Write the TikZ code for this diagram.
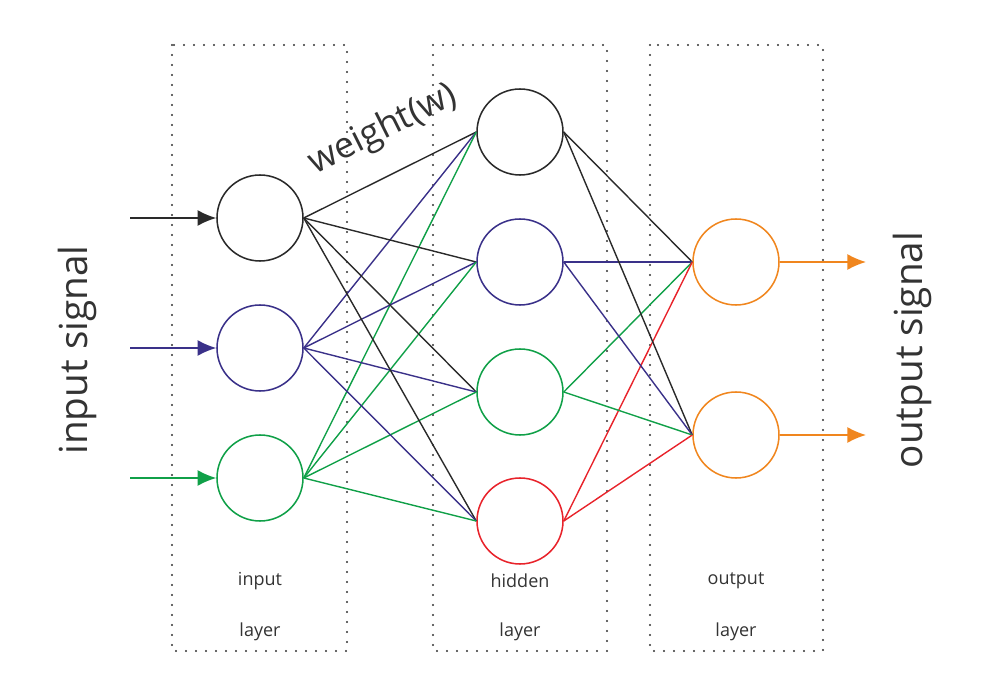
\documentclass[tikz,border=0pt]{standalone}
\usepackage{fontspec}
\setmainfont{Open Sans}
\usetikzlibrary{arrows.meta}
\definecolor{cblack}{HTML}{2A2A2A}
\definecolor{cblue}{HTML}{3A3189}
\definecolor{cgreen}{HTML}{10A048}
\definecolor{cred}{HTML}{E8232B}
\definecolor{corange}{HTML}{F0861E}
\definecolor{ctext}{HTML}{333333}
\begin{document}
\begin{tikzpicture}[x=0.75pt,y=-0.75pt,
  neuron/.style={circle,draw,line width=1.15pt,minimum size=64.5pt,inner sep=0pt},
  wire/.style={line width=1.05pt},
  layerbox/.style={draw=ctext,line width=1.7pt,line cap=round,dash pattern=on 0pt off 7.5pt},
  sig/.style={line width=1.15pt,-{Latex[length=14pt,width=12pt]}},
  smalllbl/.style={text=ctext,font=\fontsize{13.5}{16}\selectfont},
  biglbl/.style={text=ctext,font=\fontsize{29}{34}\selectfont}]
\useasboundingbox (0,0) rectangle (997,695);
% layer boxes
\draw[layerbox] (172,45) rectangle (347,651);
\draw[layerbox] (433,45) rectangle (607,651);
\draw[layerbox] (650,45) rectangle (823,651);
% neurons
\node[neuron,draw=cblack] (i1) at (260,218) {};
\node[neuron,draw=cblue] (i2) at (260,348) {};
\node[neuron,draw=cgreen] (i3) at (260,478) {};
\node[neuron,draw=cblack] (h1) at (520,132) {};
\node[neuron,draw=cblue] (h2) at (520,262) {};
\node[neuron,draw=cgreen] (h3) at (520,392) {};
\node[neuron,draw=cred] (h4) at (520,521) {};
\node[neuron,draw=corange] (o1) at (736,262) {};
\node[neuron,draw=corange] (o2) at (736,435) {};
% input -> hidden
\foreach \h in {h1,h2,h3,h4}{
  \draw[wire,cblack] (i1.east) -- (\h.west);
  \draw[wire,cblue] (i2.east) -- (\h.west);
  \draw[wire,cgreen] (i3.east) -- (\h.west);
}
% hidden -> output
\foreach \o in {o1,o2}{
  \draw[wire,cblack] (h1.east) -- (\o.west);
  \draw[wire,cblue] (h2.east) -- (\o.west);
  \draw[wire,cgreen] (h3.east) -- (\o.west);
  \draw[wire,cred] (h4.east) -- (\o.west);
}
% signals
\coordinate (s1) at (130,218);
\coordinate (s2) at (130,348);
\coordinate (s3) at (130,478);
\coordinate (t1) at (866,262);
\coordinate (t2) at (866,435);
\draw[sig,cblack] (s1) -- (i1.west);
\draw[sig,cblue] (s2) -- (i2.west);
\draw[sig,cgreen] (s3) -- (i3.west);
\draw[sig,corange] (o1.east) -- (t1);
\draw[sig,corange] (o2.east) -- (t2);
% labels
\node[biglbl,rotate=90] (lin) at (77,350) {input signal};
\node[biglbl,rotate=90] (lout) at (912,350) {output signal};
\node[text=ctext,font=\fontsize{27}{32}\selectfont,rotate=26.5] (w) at (383,130) {weight(w)};
\node[smalllbl] (l1a) at (260,581) {input};
\node[smalllbl] (l1b) at (260,632) {layer};
\node[smalllbl] (l2a) at (520,581) {hidden};
\node[smalllbl] (l2b) at (520,632) {layer};
\node[smalllbl] (l3a) at (736,581) {output};
\node[smalllbl] (l3b) at (736,632) {layer};
\end{tikzpicture}
\end{document}
